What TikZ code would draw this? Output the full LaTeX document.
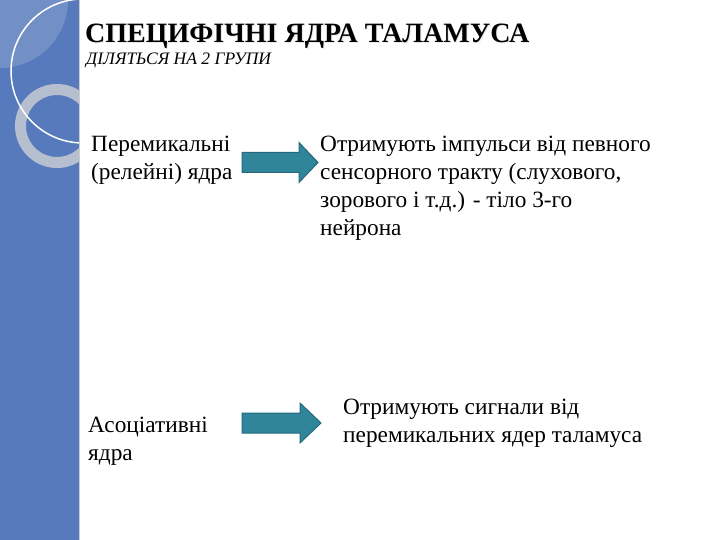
\documentclass[tikz,border=0pt]{standalone}
\usepackage{fontspec}
\setmainfont{Liberation Serif}
\definecolor{stripblue}{RGB}{86,122,188}
\definecolor{striplight}{RGB}{150,172,212}
\definecolor{ringgray}{RGB}{205,209,214}
\definecolor{arrowfill}{RGB}{49,133,155}
\definecolor{arrowline}{RGB}{38,105,125}
\begin{document}
\begin{tikzpicture}[x=1pt,y=-1pt,
  body/.style={anchor=base west, inner sep=0pt, font=\fontsize{23.3}{28}\selectfont},
  blockarrow/.style={draw=arrowline, fill=arrowfill, line width=1pt, line join=miter}]
\useasboundingbox (0,0) rectangle (720,540);
\fill[white] (0,0) rectangle (720,540);
% left decorative strip
\begin{scope}
  \clip (0,0) rectangle (79,540);
  \fill[stripblue] (0,0) rectangle (79,540);
  \fill[striplight, opacity=0.45] (0,0) circle (68pt);
  \draw[ringgray, opacity=0.8, line width=11pt] (57,126) circle (36.5pt);
  \draw[white, line width=1.5pt] (83,71) circle (72pt);
\end{scope}
\draw[gray!40, line width=1pt] (79.5,0) -- (79.5,540);
% title
\node[anchor=base west, inner sep=0pt, text=gray!18, font=\fontsize{28}{32}\selectfont\bfseries] (titleshadow) at (86,44) {СПЕЦИФІЧНІ ЯДРА ТАЛАМУСА};
\node[anchor=base west, inner sep=0pt, font=\fontsize{28}{32}\selectfont\bfseries] (title) at (85,43) {СПЕЦИФІЧНІ ЯДРА ТАЛАМУСА};
\node[anchor=base west, inner sep=0pt, font=\fontsize{17.5}{20}\selectfont\itshape] (sub) at (86,64.5) {ДІЛЯТЬСЯ НА 2 ГРУПИ};
% texts
\node[body] (relay) at (91,152) {\parbox[t]{160pt}{\raggedright Перемикальні\\(релейні) ядра}};
\node[body] (relaydesc) at (320,152) {\parbox[t]{390pt}{\raggedright Отримують імпульси від певного\\сенсорного тракту (слухового,\\зорового і т.д.) - тіло 3-го\\нейрона}};
\node[body] (assoc) at (88,432) {\parbox[t]{160pt}{\raggedright Асоціативні\\ядра}};
\node[body] (assocdesc) at (343,414) {\parbox[t]{390pt}{\raggedright Отримують сигнали від\\перемикальних ядер таламуса}};
% block arrows
\coordinate (a1) at (242,162.5);
\coordinate (a2) at (242,423);
\draw[blockarrow] (a1) ++(0,-10) -- ++(57,0) -- ++(0,-10) -- ++(19,20) -- ++(-19,20) -- ++(0,-10) -- ++(-57,0) -- cycle;
\draw[blockarrow] (a2) ++(0,-10) -- ++(58,0) -- ++(0,-10) -- ++(21,20) -- ++(-21,20) -- ++(0,-10) -- ++(-58,0) -- cycle;
\end{tikzpicture}
\end{document}
